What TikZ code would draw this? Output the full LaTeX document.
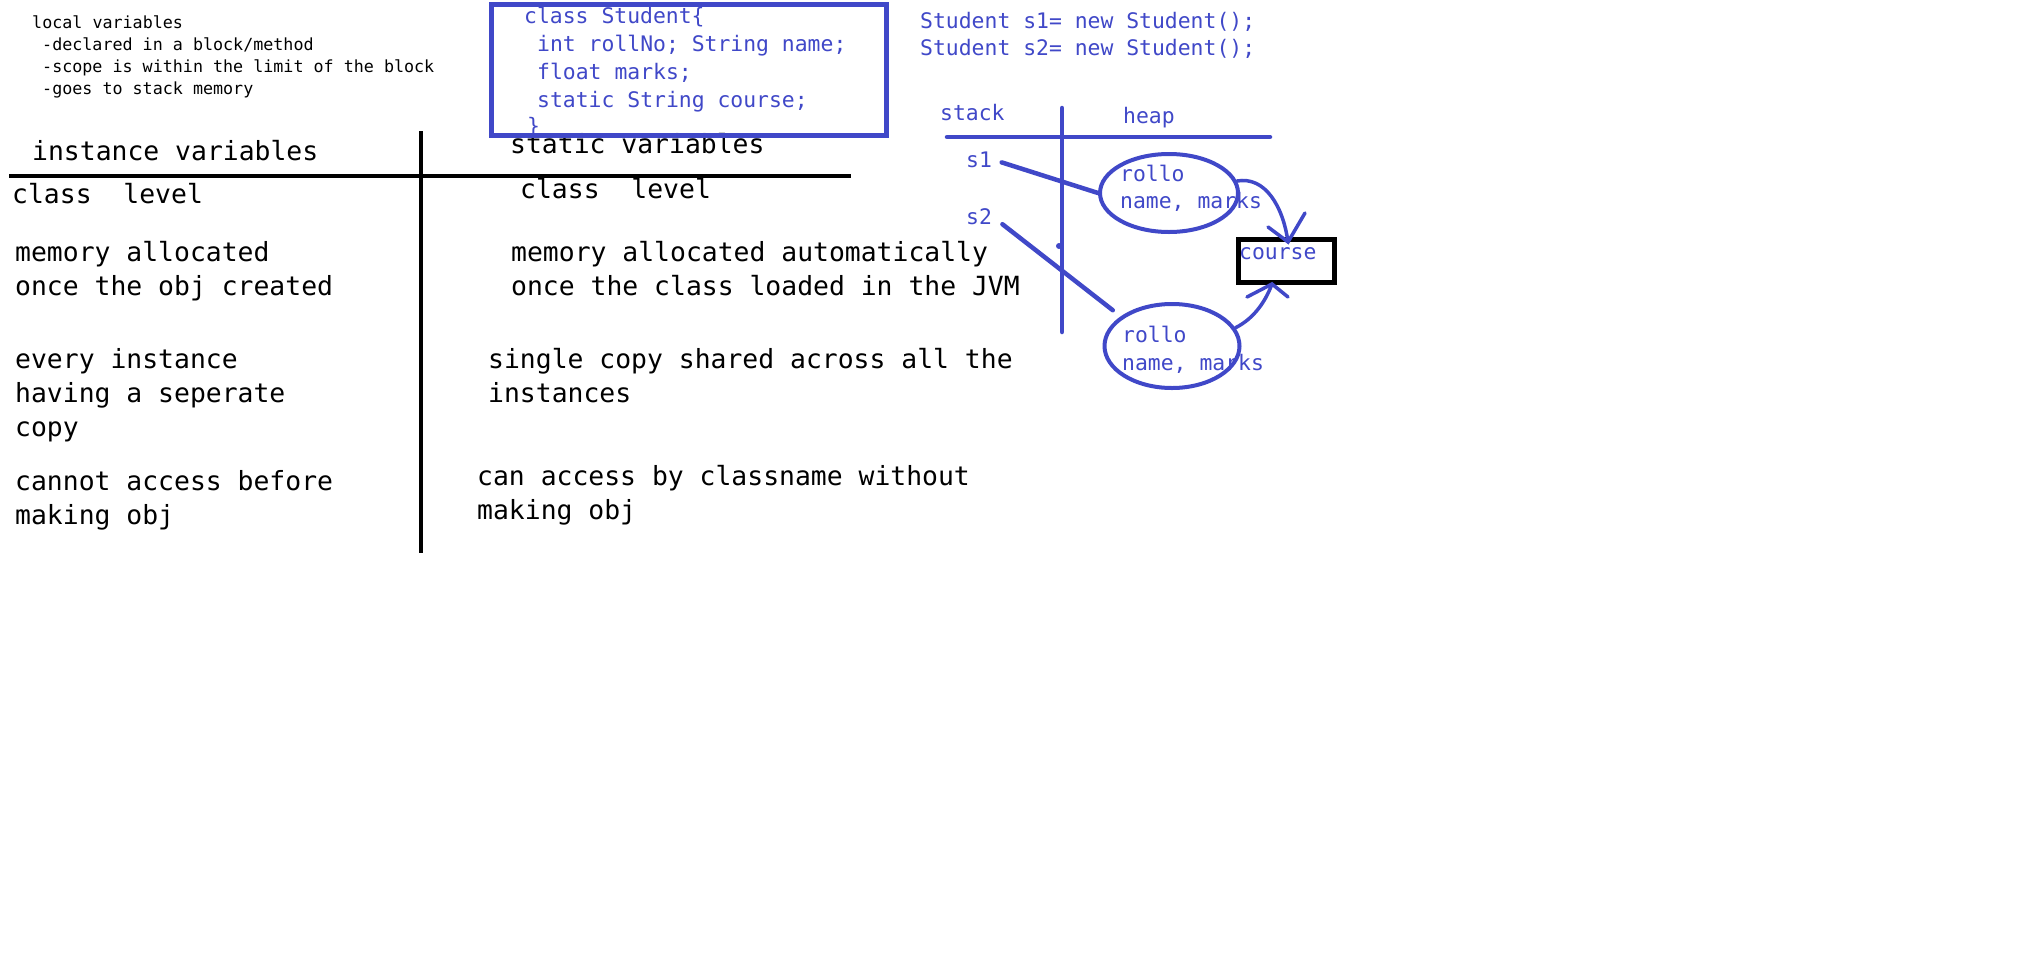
\documentclass[tikz,border=0pt]{standalone}
\usepackage{fontspec}
\setmonofont{DejaVu Sans Mono}
\usetikzlibrary{shapes.geometric}
\definecolor{penblue}{RGB}{64,72,200}

\begin{document}
\begin{tikzpicture}[x=1pt, y=-1pt, line cap=round,
    bigtext/.style={anchor=base west, inner sep=0pt, font=\ttfamily\fontsize{26.4}{34}\selectfont},
    codetext/.style={anchor=base west, inner sep=0pt, text=penblue, font=\ttfamily\fontsize{21.4}{28}\selectfont},
    notetext/.style={anchor=base west, inner sep=0pt, font=\ttfamily\fontsize{16.7}{22}\selectfont},
    penline/.style={penblue, line width=4.5pt},
    heapobj/.style={ellipse, draw=penblue, line width=4pt, inner sep=0pt}]

    % 画布
    \fill[white] (0,0) rectangle (2022,978);
    \useasboundingbox (0,0) rectangle (2022,978);

    % 参数
    \def\colL{15}     % 左栏
    \def\colR{511}    % 右栏
    \def\lsep{34}     % 行距

    % 局部变量说明
    \node[notetext] (loc0) at (32,28) {local variables};
    \node[notetext] (loc1) at (42,50) {-declared in a block/method};
    \node[notetext] (loc2) at (42,72) {-scope is within the limit of the block};
    \node[notetext] (loc3) at (42,94) {-goes to stack memory};

    % 类定义
    \node[codetext] (cls0) at (524,23) {class Student\{};
    \node[codetext] (cls1) at (537,51) {int rollNo; String name;};
    \node[codetext] (cls2) at (537,79) {float marks;};
    \node[codetext] (cls3) at (537,107) {static String course;};
    \node[codetext] (cls4) at (527,133) {\}};

    % 表头
    \node[bigtext] (insthead) at (32,160) {instance variables};
    \node[bigtext] (stathead) at (510,153) {static variables};
    \draw[line width=4.5pt, line cap=butt] (9,176) -- (851,176);
    \draw[line width=4.5pt, line cap=butt] (421,131) -- (421,553);
    \draw[penblue, line width=5pt, line cap=butt] (491,4) rectangle (886,135);

    % 左栏
    \node[bigtext] (il0) at (12,203) {class\ \ level};
    \node[bigtext] (il1) at (\colL,261) {memory allocated};
    \node[bigtext] (il2) at (\colL,261+\lsep) {once the obj created};
    \node[bigtext] (il3) at (\colL,368) {every instance};
    \node[bigtext] (il4) at (\colL,368+\lsep) {having a seperate};
    \node[bigtext] (il5) at (\colL,368+2*\lsep) {copy};
    \node[bigtext] (il6) at (\colL,490) {cannot access before};
    \node[bigtext] (il7) at (\colL,490+\lsep) {making obj};

    % 右栏
    \node[bigtext] (sl0) at (520,198) {class\ \ level};
    \node[bigtext] (sl1) at (\colR,261) {memory allocated automatically};
    \node[bigtext] (sl2) at (\colR,261+\lsep) {once the class loaded in the JVM};
    \node[bigtext] (sl3) at (488,368) {single copy shared across all the};
    \node[bigtext] (sl4) at (488,368+\lsep) {instances};
    \node[bigtext] (sl5) at (477,485) {can access by classname without};
    \node[bigtext] (sl6) at (477,485+\lsep) {making obj};

    % 对象创建
    \node[codetext] (new1) at (920,28) {Student s1= new Student();};
    \node[codetext] (new2) at (920,55) {Student s2= new Student();};

    % 栈与堆
    \node[codetext] (stack) at (940,120) {stack};
    \node[codetext] (heap) at (1123,123) {heap};
    \draw[penline] (947,137) -- (1270,137);
    \draw[penline] (1062,108) -- (1062,332);
    \fill[penblue] (1059,246) circle (3pt);

    \node[codetext] (s1) at (966,167) {s1};
    \node[codetext] (s2) at (966,224) {s2};

    \node[codetext] (obj1a) at (1120,181) {rollo};
    \node[codetext] (obj1b) at (1120,208) {name, marks};
    \node[codetext] (obj2a) at (1122,342) {rollo};
    \node[codetext] (obj2b) at (1122,370) {name, marks};
    \node[heapobj, minimum width=138, minimum height=78] (ell1) at (1169,193) {};
    \node[heapobj, minimum width=135, minimum height=84] (ell2) at (1172,346) {};

    \draw[penline, shorten <=10pt] (s1.east) -- (ell1.west);
    \draw[penline, shorten <=13pt, shorten >=10pt] (s2.east) -- (ell2.150);

    % 静态变量 course
    \node[codetext] (coursetxt) at (1239,259) {course};
    \node[draw, line width=5pt, minimum width=96, minimum height=43, anchor=north west, inner sep=0pt] (coursebox) at (1236,237) {};

    \coordinate (tip1) at (1288,242);
    \coordinate (tip2) at (1272,284);
    \draw[penline, line width=3.5pt] (ell1.10) .. controls (1265,176) and (1283,206) .. (tip1);
    \draw[penline, line width=3.5pt] (1268,227) -- (tip1) -- (1305,213);
    \draw[penline, line width=3.5pt] (ell2.16) .. controls (1255,318) and (1266,300) .. (tip2);
    \draw[penline, line width=3.5pt] (1247,297) -- (tip2) -- (1288,297);

\end{tikzpicture}
\end{document}
